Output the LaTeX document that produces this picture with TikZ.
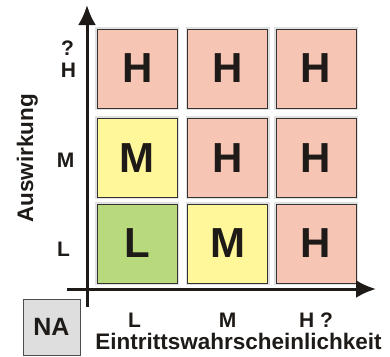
\documentclass[tikz,border=0pt]{standalone}
\usepackage{fontspec}
\setmainfont{Liberation Sans}
\usetikzlibrary{arrows.meta}
\definecolor{hcol}{HTML}{F6C5B4}
\definecolor{mcol}{HTML}{FFF79A}
\definecolor{lcol}{HTML}{B9DA7C}
\definecolor{nacol}{HTML}{DEDEDE}
\definecolor{axcol}{HTML}{1E1A18}
\tikzset{
  cell/.style={draw=black!80, line width=0.9pt, minimum width=80pt, minimum height=79pt, inner sep=0pt, outer sep=0pt,
    font=\fontsize{42}{42}\selectfont\bfseries, text=axcol,
    preaction={draw=black!12, line width=4pt}},
  hcell/.style={cell, fill=hcol},
  mcell/.style={cell, fill=mcol},
  lcell/.style={cell, fill=lcol},
  lbl/.style={inner sep=0pt, font=\fontsize{21}{21}\selectfont\bfseries, text=axcol},
  ttl/.style={inner sep=0pt, font=\fontsize{22.5}{22.5}\selectfont\bfseries, text=axcol},
  axis/.style={line width=3pt, draw=axcol, -{Latex[length=20pt,width=18pt]}}
}
\begin{document}
\begin{tikzpicture}[x=1pt,y=-1pt]
\useasboundingbox (0,0) rectangle (390,356);
% cells
\node[hcell] (c11) at (137.3,68.5) {H};
\node[hcell] (c12) at (227.5,68.5) {H};
\node[hcell] (c13) at (316,68.5) {H};
\node[mcell] (c21) at (137.3,157.7) {M};
\node[hcell] (c22) at (227.5,157.7) {H};
\node[hcell] (c23) at (316,157.7) {H};
\node[lcell] (c31) at (137.3,243.5) {L};
\node[mcell] (c32) at (227.5,243.5) {M};
\node[hcell] (c33) at (316,243.5) {H};
% axes
\coordinate (ystart) at (87,307);
\coordinate (yend) at (87,5);
\coordinate (xstart) at (67,289);
\coordinate (xend) at (376,289);
\draw[axis] (ystart) -- (yend);
\draw[axis] (xstart) -- (xend);
% y labels
\node[lbl] (q) at (67.5,48.5) {?};
\node[lbl] (yh) at (68.5,70) {H};
\node[lbl] (ym) at (65.5,160.5) {M};
\node[lbl] (yl) at (63.5,249) {L};
\node[ttl, rotate=90, anchor=base] (yt) at (33,158.5) {Auswirkung};
% x labels
\node[lbl, anchor=base] (xl) at (134.5,327) {L};
\node[lbl, anchor=base] (xm) at (227.5,327) {M};
\node[lbl, anchor=base] (xh) at (316,327) {H ?};
\node[ttl, anchor=base] (xt) at (238.5,349) {Eintrittswahrscheinlichkeit};
% NA box
\node[draw=black!70, line width=0.9pt, fill=nacol, minimum width=57pt, minimum height=56pt, inner sep=0pt,
  font=\fontsize{25}{25}\selectfont\bfseries, text=axcol] (na) at (51.5,327) {NA};
\end{tikzpicture}
\end{document}
